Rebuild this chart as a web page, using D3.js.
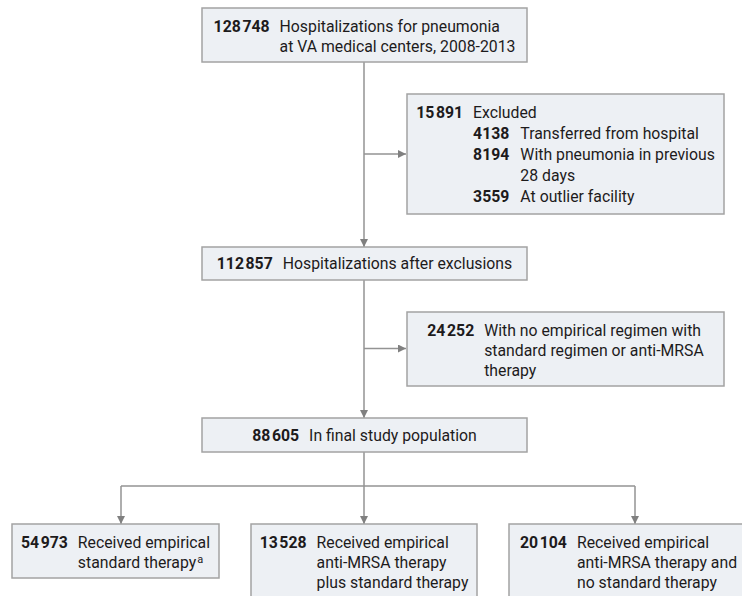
<!DOCTYPE html>
<html>
<head>
<meta charset="utf-8">
<script src="https://cdn.jsdelivr.net/npm/d3@7"></script>
<style>
    body { margin: 0; background: #fff; }
    text { font-family: Roboto, "Noto Sans", sans-serif; font-size: 15.8px; fill: #1d1b1c; }
    .num { font-weight: bold; }
</style>
</head>
<body>
<svg id="chart" width="742" height="596"></svg>
<script>
// flow counts and labels
const mainCounts = [128748, 112857, 88605];
const mainLabels = [
    ["Hospitalizations for pneumonia", "at VA medical centers, 2008-2013"],
    ["Hospitalizations after exclusions"],
    ["In final study population"]
];
const excludedCounts = [15891, 24252];
const excludedLabels = [
    ["Excluded"],
    ["With no empirical regimen with", "standard regimen or anti-MRSA", "therapy"]
];
const reasonCounts = [4138, 8194, 3559];
const reasonLabels = [
    ["Transferred from hospital"],
    ["With pneumonia in previous", "28 days"],
    ["At outlier facility"]
];
const groupCounts = [54973, 13528, 20104];
const groupLabels = [
    ["Received empirical", "standard therapy"],
    ["Received empirical", "anti-MRSA therapy", "plus standard therapy"],
    ["Received empirical", "anti-MRSA therapy and", "no standard therapy"]
];
const groupNotes = ["a", "", ""];

const fmt = function (n) {
    return n >= 10000 ? d3.format(",")(n).replace(/,/g, "\u200A") : String(n);
};

const svg = d3.select("#chart");
const lineColor = "#939393";
const lineH = 20;

svg.append("defs").append("marker")
    .attr("id", "arrow")
    .attr("viewBox", "0 0 10 10")
    .attr("refX", 10).attr("refY", 5)
    .attr("markerWidth", 8).attr("markerHeight", 8)
    .attr("markerUnits", "userSpaceOnUse")
    .attr("orient", "auto")
    .append("path")
    .attr("d", "M0,0L10,5L0,10z")
    .attr("fill", "#808080");

// box layout
const mainBoxes = [
    {x: 202, y: 8, w: 325, h: 54},
    {x: 202, y: 247, w: 325, h: 33},
    {x: 202, y: 418, w: 325, h: 34}
];
const exclBoxes = [
    {x: 407, y: 94, w: 317, h: 120, lh: 21},
    {x: 407, y: 312, w: 317, h: 74}
];
const groupBoxes = [
    {x: 12, y: 524, w: 207, h: 54},
    {x: 251, y: 524, w: 226, h: 90},
    {x: 509, y: 524, w: 250, h: 90, padL: 11}
];
const spine = mainBoxes[0].x + mainBoxes[0].w / 2 - 0.5;
const branchY = 486;

const links = svg.append("g").attr("fill", "none").attr("stroke", lineColor).attr("stroke-width", 1.5);
const line = d3.line();

function arrow(pts, head) {
    const p = links.append("path").attr("d", line(pts));
    if (head) p.attr("marker-end", "url(#arrow)");
}

// spine
arrow([[spine, mainBoxes[0].y + mainBoxes[0].h], [spine, mainBoxes[1].y]], true);
arrow([[spine, mainBoxes[1].y + mainBoxes[1].h], [spine, mainBoxes[2].y]], true);
arrow([[spine, mainBoxes[2].y + mainBoxes[2].h], [spine, branchY]], false);
// side exits
arrow([[spine, exclBoxes[0].y + exclBoxes[0].h / 2], [exclBoxes[0].x - 1, exclBoxes[0].y + exclBoxes[0].h / 2]], true);
arrow([[spine, exclBoxes[1].y + exclBoxes[1].h / 2 - 0.5], [exclBoxes[1].x - 1, exclBoxes[1].y + exclBoxes[1].h / 2 - 0.5]], true);
// branches
const branchX = [121, spine, 635];
arrow([[branchX[0], branchY], [branchX[2], branchY]], false);
branchX.forEach(function (bx, i) {
    arrow([[bx, branchY], [bx, groupBoxes[i].y]], true);
});

function drawBox(b) {
    svg.append("rect")
        .attr("x", b.x).attr("y", b.y)
        .attr("width", b.w).attr("height", b.h)
        .attr("fill", "#edf0f4")
        .attr("stroke", "#a3a3a3")
        .attr("stroke-width", 1.5);
    return svg.append("g");
}

// number + text block, centered in the box
function fillBox(b, count, lines, note, sub) {
    const g = drawBox(b);
    const lh = b.lh || lineH;
    const nLines = lines.length + (sub ? d3.sum(sub.labels, function (l) { return l.length; }) : 0);
    const top = nLines === 1 ? b.y + b.h / 2 + 5.5 : b.y + 24;
    const num = g.append("text").attr("class", "num").attr("y", top).text(fmt(count));
    const nw = num.node().getComputedTextLength();
    const tx = nw + 10;
    let maxW = 0;
    lines.forEach(function (l, i) {
        const t = g.append("text").attr("x", tx).attr("y", top + i * lh).text(l);
        if (note && i === lines.length - 1) {
            t.append("tspan").attr("font-size", "11px").attr("dx", 1).attr("dy", -5).text(note);
        }
        maxW = Math.max(maxW, t.node().getComputedTextLength());
    });
    if (sub) {
        let row = lines.length;
        const nums = sub.counts.map(function (c, j) {
            return g.append("text").attr("class", "num").attr("x", tx)
                .attr("y", top + (row + d3.sum(sub.labels.slice(0, j), function (l) { return l.length; })) * lh)
                .text(fmt(c));
        });
        const sw = d3.max(nums, function (n) { return n.node().getComputedTextLength(); });
        sub.labels.forEach(function (ls, j) {
            ls.forEach(function (l) {
                const t = g.append("text").attr("x", tx + sw + 11).attr("y", top + row * lh).text(l);
                maxW = Math.max(maxW, sw + 11 + t.node().getComputedTextLength());
                row++;
            });
        });
    }
    const total = tx + maxW;
    const left = b.padL != null ? b.x + b.padL : b.x + b.w / 2 - total / 2;
    g.attr("transform", "translate(" + left + ",0)");
}

mainBoxes.forEach(function (b, i) { fillBox(b, mainCounts[i], mainLabels[i]); });
fillBox(exclBoxes[0], excludedCounts[0], excludedLabels[0], "", {counts: reasonCounts, labels: reasonLabels});
fillBox(exclBoxes[1], excludedCounts[1], excludedLabels[1]);
groupBoxes.forEach(function (b, i) { fillBox(b, groupCounts[i], groupLabels[i], groupNotes[i]); });
</script>
</body>
</html>
